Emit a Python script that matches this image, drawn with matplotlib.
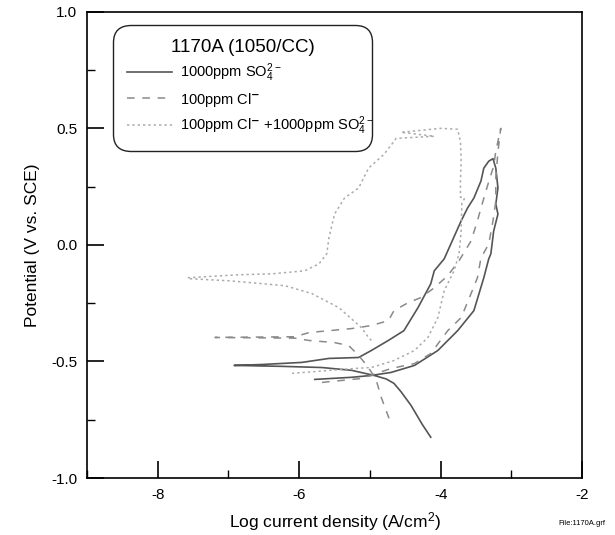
import numpy as np
import matplotlib
matplotlib.use('Agg')
import matplotlib.pyplot as plt

plt.rcParams['font.family'] = ['Liberation Sans', 'DejaVu Sans']
plt.rcParams['mathtext.default'] = 'regular'
plt.rcParams['axes.unicode_minus'] = False

# 1000ppm SO4 (solid): cathodic end -> Ecorr -> anodic loop -> reverse
so4_logi = [-4.14, -4.26, -4.42, -4.56, -4.66, -4.77, -4.94, -5.26, -5.68, -6.24, -6.92,
            -6.52, -5.96, -5.58, -5.16, -4.98, -4.74, -4.52, -4.32, -4.14, -4.09, -3.95,
            -3.90, -3.71, -3.62, -3.53, -3.43, -3.39, -3.32, -3.26,
            -3.22, -3.19, -3.22, -3.19, -3.25, -3.29, -3.32, -3.39, -3.53, -3.76,
            -4.04, -4.37, -4.70, -4.98, -5.26, -5.78]
so4_pot = [-0.825, -0.77, -0.688, -0.63, -0.594, -0.575, -0.560, -0.538, -0.526, -0.521, -0.517,
           -0.513, -0.504, -0.487, -0.483, -0.453, -0.410, -0.368, -0.269, -0.167, -0.111, -0.060,
           -0.026, 0.103, 0.158, 0.201, 0.274, 0.329, 0.359, 0.370,
           0.329, 0.244, 0.175, 0.132, 0.060, -0.038, -0.060, -0.141, -0.282, -0.368,
           -0.453, -0.517, -0.547, -0.560, -0.568, -0.577]

# 100ppm Cl (dashed)
cl_logi = [-4.73, -4.84, -4.91, -5.02, -5.16, -5.30, -5.50, -5.86, -6.06, -7.19,
           -6.06, -5.86, -5.58, -5.26, -4.98, -4.74, -4.66, -4.46, -4.28, -4.09, -3.90,
           -3.74, -3.57, -3.48, -3.43, -3.33, -3.25, -3.22, -3.15,
           -3.19, -3.22, -3.22, -3.26, -3.32, -3.43, -3.48, -3.57, -3.71, -3.90, -4.14,
           -4.37, -4.70, -5.12, -5.68, -5.78]
cl_pot = [-0.744, -0.654, -0.581, -0.526, -0.474, -0.432, -0.419, -0.410, -0.400, -0.397,
          -0.394, -0.376, -0.368, -0.359, -0.346, -0.325, -0.282, -0.248, -0.226, -0.184, -0.132,
          -0.068, 0.017, 0.103, 0.158, 0.261, 0.338, 0.402, 0.500,
          0.400, 0.286, 0.188, 0.103, 0.004, -0.056, -0.141, -0.209, -0.312, -0.368, -0.466,
          -0.509, -0.530, -0.573, -0.590, -0.590]

# 100ppm Cl + 1000ppm SO4 (dotted)
mix_logi = [-4.98, -5.02, -5.12, -5.44, -5.82, -6.20, -6.99, -7.55, -7.58,
            -6.85, -6.38, -5.92, -5.72, -5.61, -5.58, -5.50, -5.36, -5.16, -5.02, -4.80,
            -4.66, -4.63, -4.09, -4.56, -4.00, -3.76, -3.72, -3.71, -3.72, -3.72, -3.66,
            -3.70, -3.71, -3.74, -3.81, -3.95, -4.04, -4.18, -4.37, -4.66, -4.98, -5.22, -6.10]
mix_pot = [-0.410, -0.397, -0.355, -0.269, -0.209, -0.175, -0.154, -0.145, -0.141,
           -0.128, -0.124, -0.111, -0.081, -0.038, 0.030, 0.132, 0.201, 0.244, 0.329, 0.389,
           0.444, 0.457, 0.466, 0.483, 0.500, 0.496, 0.444, 0.359, 0.274, 0.205, 0.200,
           0.180, 0.060, -0.038, -0.111, -0.197, -0.312, -0.397, -0.453, -0.496, -0.526, -0.530, -0.551]

labels = [r'1000ppm SO$_4^{2-}$', r'100ppm Cl$^{\mathbf{-}}$',
          r'100ppm Cl$^{\mathbf{-}}$ +1000ppm SO$_4^{2-}$']

fig = plt.figure(figsize=(6.15, 5.35), dpi=100)
ax = fig.add_axes([0.1415, 0.1065, 0.805, 0.8715])

ax.plot(so4_logi, so4_pot, color='#555555', lw=1.2, label=labels[0])
ax.plot(cl_logi, cl_pot, color='#8a8a8a', lw=1.1, dashes=(5, 5), label=labels[1])
ax.plot(mix_logi, mix_pot, color='#aaaaaa', lw=1.1, dashes=(1.5, 2), label=labels[2])

ax.set_xlim(-9, -2)
ax.set_ylim(-1, 1)
ax.set_xticks([-8, -6, -4, -2])
ax.set_xticks([-9, -7, -5, -3], minor=True)
ax.set_yticks([-1.0, -0.5, 0.0, 0.5, 1.0])
ax.set_yticks([-0.75, -0.25, 0.25, 0.75], minor=True)
ax.yaxis.set_major_formatter(matplotlib.ticker.FormatStrFormatter('%.1f'))
ax.tick_params(which='major', direction='in', length=12, width=1.2, labelsize=11, pad=7)
ax.tick_params(which='minor', direction='in', length=6, width=1.0)
for sp in ax.spines.values():
    sp.set_linewidth(1.2)

ax.set_xlabel('Log current density (A/cm$^2$)', fontsize=12.5, labelpad=6)
ax.set_ylabel('Potential (V vs. SCE)', fontsize=12.5, labelpad=8)

leg = ax.legend(loc='upper left', bbox_to_anchor=(0.0525, 0.972, 0.5235, 0.0),
                mode='expand', borderaxespad=0, title='1170A (1050/CC)', title_fontsize=13.5,
                fontsize=10.5, handlelength=3.1, handletextpad=0.55, labelspacing=0.42,
                borderpad=0.95, fancybox=True, framealpha=1, edgecolor='#222222')
leg.get_frame().set_boxstyle('round,pad=0,rounding_size=1.2')
leg.get_frame().set_linewidth(1.0)

fig.text(0.985, 0.022, 'File:1170A.grf', fontsize=5.5, ha='right', va='center')

fig.savefig('out.png', dpi=100)
